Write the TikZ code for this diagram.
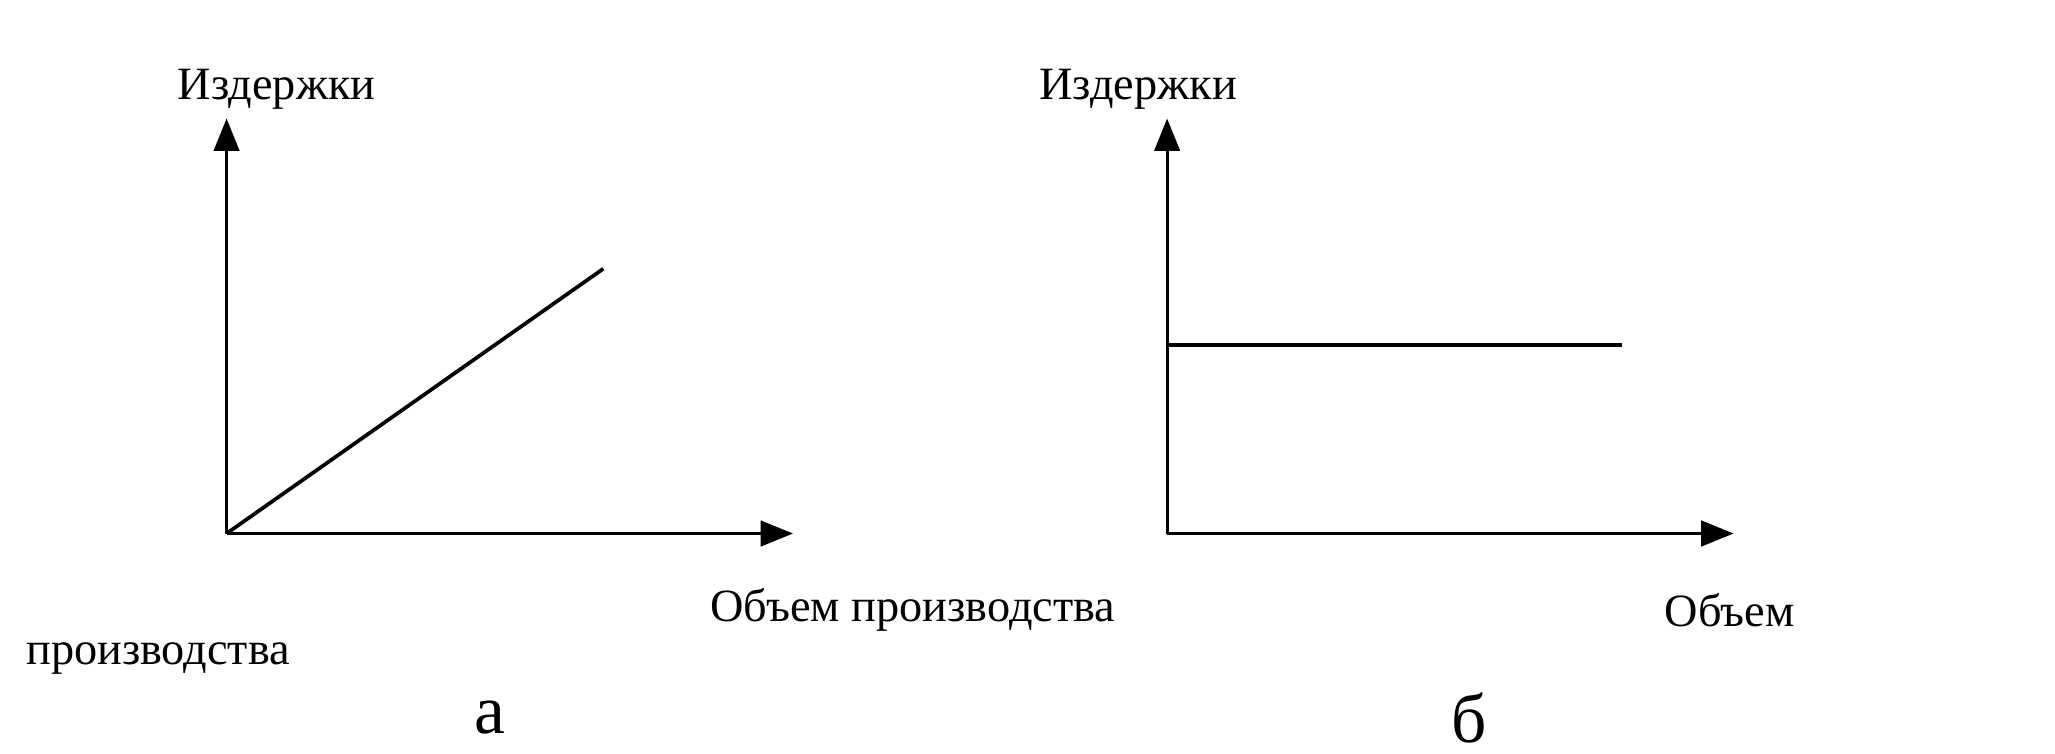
\documentclass[tikz,border=0pt]{standalone}
\usepackage{fontspec}
\setmainfont{Liberation Serif}
\usetikzlibrary{arrows.meta}
\begin{document}
\begin{tikzpicture}[x=0.02cm,y=-0.02cm,
    axis/.style={line width=1.3pt,-{Triangle[length=14pt,width=11pt]}},
    lbl/.style={font=\fontsize{20}{24}\selectfont},
    sub/.style={font=\fontsize{30}{34}\selectfont}]
    \useasboundingbox (0,0) rectangle (1560,572);

    % а
    \coordinate (Oa) at (172,405);
    \coordinate (Ya) at (172,90);
    \coordinate (Xa) at (602,405);
    \coordinate (Ea) at (458,204);
    \draw[axis] (Oa) -- (Ya);
    \draw[axis] (Oa) -- (Xa);
    \draw[line width=1.6pt] (Oa) -- (Ea);
    \node[lbl] (ca) at (210,68) {Издержки};
    \node[lbl] (qa) at (693,463) {Объем производства};
    \node[lbl] (pa) at (120,500) {производства};
    \node[sub] (na) at (372,545) {а};

    % б
    \coordinate (Ob) at (886,405);
    \coordinate (Yb) at (886,90);
    \coordinate (Xb) at (1316,405);
    \coordinate (Sb) at (886,262);
    \coordinate (Eb) at (1231,262);
    \draw[axis] (Ob) -- (Yb);
    \draw[axis] (Ob) -- (Xb);
    \draw[line width=1.6pt] (Sb) -- (Eb);
    \node[lbl] (cb) at (864,68) {Издержки};
    \node[lbl] (qb) at (1313,463) {Объем};
    \node[sub] (nb) at (1115,545) {б};
\end{tikzpicture}
\end{document}
